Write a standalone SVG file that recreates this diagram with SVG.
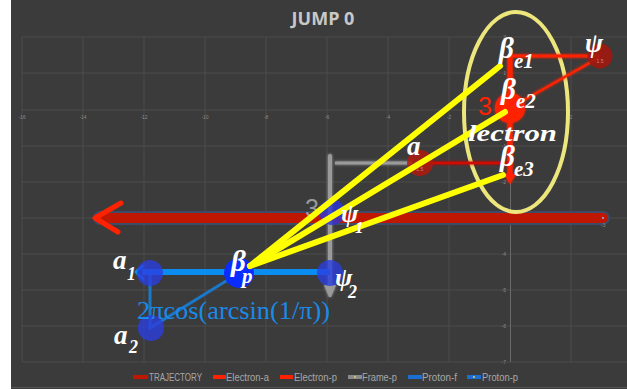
<svg xmlns="http://www.w3.org/2000/svg" width="627" height="389" viewBox="0 0 627 389">
<defs>
<style>
.grid{stroke:#4c4c4c;stroke-width:1;fill:none}
.tick{font-family:"Liberation Sans",sans-serif;font-size:5px;fill:#8a8a8a}
.lbl{font-family:"Liberation Serif",serif;font-style:italic;font-weight:bold;fill:#ffffff}
.leg{font-family:"Liberation Sans",sans-serif;font-size:11px;fill:#a8a8a8}
.tiny{font-family:"Liberation Sans",sans-serif;font-size:5px;fill:#d08070}
</style>
<filter id="glow" x="-20%" y="-20%" width="140%" height="140%">
<feGaussianBlur stdDeviation="1.5" result="b"/>
<feMerge><feMergeNode in="b"/><feMergeNode in="SourceGraphic"/></feMerge>
</filter>
</defs>
<rect x="0" y="0" width="627" height="389" fill="#ffffff"/>
<rect x="11" y="0" width="616" height="389" fill="#3b3b3b"/>
<line x1="11" y1="387.5" x2="627" y2="387.5" stroke="#555" stroke-width="1"/>
<text x="323" y="25" text-anchor="middle" font-family="Open Sans, Liberation Sans, sans-serif" font-weight="bold" font-size="18" fill="#c8c8c8">JUMP 0</text>
<g id="grid">
<path class="grid" d="M22 37V362M83 37V362M144 37V362M205 37V362M266 37V362M327 37V362M388 37V362M449 37V362M571 37V362M22 37H627M22 73H627M22 110H627M22 146H627M22 182H627M22 218H627M22 254H627M22 290H627M22 326H627M22 362H627"/>
<line x1="510.5" y1="37" x2="510.5" y2="362" stroke="#6a6a6a" stroke-width="1"/>
<text class="tick" x="22" y="119" text-anchor="middle">-16</text>
<text class="tick" x="83" y="119" text-anchor="middle">-14</text>
<text class="tick" x="144" y="119" text-anchor="middle">-12</text>
<text class="tick" x="205" y="119" text-anchor="middle">-10</text>
<text class="tick" x="266" y="119" text-anchor="middle">-8</text>
<text class="tick" x="327" y="119" text-anchor="middle">-6</text>
<text class="tick" x="388" y="119" text-anchor="middle">-4</text>
<text class="tick" x="449" y="119" text-anchor="middle">-2</text>
<text class="tick" x="571" y="119" text-anchor="middle">2</text>
<text class="tick" x="506" y="39" text-anchor="end">2</text>
<text class="tick" x="506" y="75" text-anchor="end">1</text>
<text class="tick" x="506" y="148" text-anchor="end">-1</text>
<text class="tick" x="506" y="184" text-anchor="end">-2</text>
<text class="tick" x="506" y="220" text-anchor="end">-3</text>
<text class="tick" x="506" y="256" text-anchor="end">-4</text>
<text class="tick" x="506" y="292" text-anchor="end">-5</text>
<text class="tick" x="506" y="328" text-anchor="end">-6</text>
<text class="tick" x="506" y="364" text-anchor="end">-7</text>
</g>
<g id="connectors">
<line x1="100" y1="218" x2="603" y2="218" stroke="#3d4a68" stroke-width="14" stroke-linecap="round"/>
<line x1="100" y1="218" x2="603" y2="218" stroke="#c01800" stroke-width="10" stroke-linecap="round"/>
<circle cx="603" cy="218" r="1" fill="#a0b0ff"/>
<text class="tick" x="603" y="227" text-anchor="middle">-3</text>
<polyline points="121,203 95,218 118,232" fill="none" stroke="#ff2200" stroke-width="5" stroke-linecap="round" stroke-linejoin="round"/>
<ellipse cx="516" cy="112" rx="52" ry="100" fill="none" stroke="#f6ef80" stroke-width="4" opacity="0.95"/>
<g filter="url(#glow)">
<polyline points="510,56 600,56" fill="none" stroke="#ff2200" stroke-width="3"/>
<line x1="600" y1="57" x2="510" y2="108" stroke="#ff2200" stroke-width="2.5"/>
<line x1="510" y1="56" x2="510" y2="176" stroke="#ff2200" stroke-width="5"/>
<polygon points="504,174 516,174 510,184" fill="#ff2200"/>
<line x1="420" y1="163" x2="510" y2="163" stroke="#d01000" stroke-width="2.5"/>
</g>
<g filter="url(#glow)">
<line x1="335" y1="163" x2="412" y2="163" stroke="#9a9a9a" stroke-width="3"/>
<line x1="330" y1="156" x2="330" y2="286" stroke="#9a9a9a" stroke-width="4" stroke-linecap="round"/>
<polygon points="324,285 336,285 331,297 329,297" fill="#9a9a9a"/>
</g>
<polyline points="150,273 150,328 239,273" fill="none" stroke="#1a78c8" stroke-width="3"/>
<line x1="142" y1="272" x2="330" y2="272" stroke="#0a8cf0" stroke-width="6"/>
<polyline points="143,266 136,272 143,279" fill="none" stroke="#0a8cf0" stroke-width="3" stroke-linecap="round" stroke-linejoin="round"/>
</g>
<g id="psi">
<circle cx="600" cy="56" r="12.5" fill="#a01810" opacity="0.9"/>
<text class="tiny" x="600" y="63" text-anchor="middle">1.5</text>
<text class="lbl" x="585" y="52" font-size="27">ψ</text>
</g>
<g id="a">
<circle cx="420" cy="163" r="13" fill="#b01a10" opacity="0.85"/>
<text class="tiny" x="419" y="171" text-anchor="middle">-1.5</text>
<text class="lbl" x="407" y="155" font-size="27">a</text>
</g>
<g id="beta-e2">
<circle cx="510" cy="108" r="15" fill="#ff2200" filter="url(#glow)"/>
<text x="478" y="115" font-family="Liberation Sans, sans-serif" font-size="25" fill="#ff2200">3</text>
</g>
<g id="psi1">
<circle cx="332" cy="212" r="13" fill="#2a36d8" opacity="0.8"/>
<text x="305" y="217" font-family="Liberation Sans, sans-serif" font-size="25" fill="#9a9a9a">3</text>
</g>
<g id="a1"><circle cx="150" cy="273" r="13" fill="#2a3ee0" opacity="0.8"/></g>
<g id="psi2"><circle cx="330" cy="273" r="13" fill="#2a3ee0" opacity="0.8"/></g>
<g id="a2"><circle cx="151" cy="328" r="13" fill="#2a3ee0" opacity="0.8"/></g>
<g id="beta-p"><circle cx="239" cy="273" r="15" fill="#0a2cff"/></g>
<g id="yellow-lines" stroke="#ffff00" stroke-width="6" stroke-linecap="round">
<line x1="250" y1="266" x2="500" y2="66"/>
<line x1="250" y1="266" x2="505" y2="112"/>
<line x1="250" y1="266" x2="503" y2="175"/>
</g>
<g id="labels">
<text class="lbl" x="499" y="58" font-size="29">β<tspan x="514" y="68" font-size="21">e1</tspan></text>
<text class="lbl" x="501" y="99" font-size="29">β<tspan x="516" y="108" font-size="21">e2</tspan></text>
<text class="lbl" x="500" y="166" font-size="29">β<tspan x="514" y="176" font-size="21">e3</tspan></text>
<text class="lbl" x="468" y="141" font-size="23" textLength="89" lengthAdjust="spacingAndGlyphs">lectron</text>
<text class="lbl" x="341" y="222" font-size="26">ψ<tspan x="355" y="233" font-size="17">1</tspan></text>
<text class="lbl" x="231" y="271" font-size="29">β<tspan x="242" y="283" font-size="21">p</tspan></text>
<text class="lbl" x="335" y="286" font-size="26">ψ<tspan x="348" y="298" font-size="18">2</tspan></text>
<text class="lbl" x="113" y="269" font-size="27">a<tspan x="127" y="280" font-size="18">1</tspan></text>
<text class="lbl" x="114" y="344" font-size="27">a<tspan x="129" y="353" font-size="18">2</tspan></text>
<text x="137" y="319" font-family="Liberation Serif, serif" font-size="25" fill="#1a8ae8" textLength="193" lengthAdjust="spacingAndGlyphs">2πcos(arcsin(1/π))</text>
</g>
<g id="legend">
<rect x="133" y="375" width="15" height="4" fill="#c01800"/>
<text class="leg" x="149" y="381" textLength="53" lengthAdjust="spacingAndGlyphs">TRAJECTORY</text>
<rect x="213" y="375" width="13" height="4" fill="#ff2200"/>
<text class="leg" x="226" y="381" textLength="43" lengthAdjust="spacingAndGlyphs">Electron-a</text>
<rect x="280" y="375" width="13" height="4" fill="#ff2200"/>
<text class="leg" x="294" y="381" textLength="43" lengthAdjust="spacingAndGlyphs">Electron-p</text>
<rect x="348" y="375" width="14" height="4" fill="#8a8a8a"/>
<circle cx="355" cy="377" r="1" fill="#e0d070"/>
<text class="leg" x="362" y="381" textLength="35" lengthAdjust="spacingAndGlyphs">Frame-p</text>
<rect x="408" y="375" width="14" height="4" fill="#1a6fd0"/>
<text class="leg" x="422" y="381" textLength="35" lengthAdjust="spacingAndGlyphs">Proton-f</text>
<rect x="467" y="375" width="14" height="4" fill="#1a6fd0"/>
<circle cx="474" cy="377" r="1" fill="#e0d070"/>
<text class="leg" x="482" y="381" textLength="36" lengthAdjust="spacingAndGlyphs">Proton-p</text>
</g>
</svg>
